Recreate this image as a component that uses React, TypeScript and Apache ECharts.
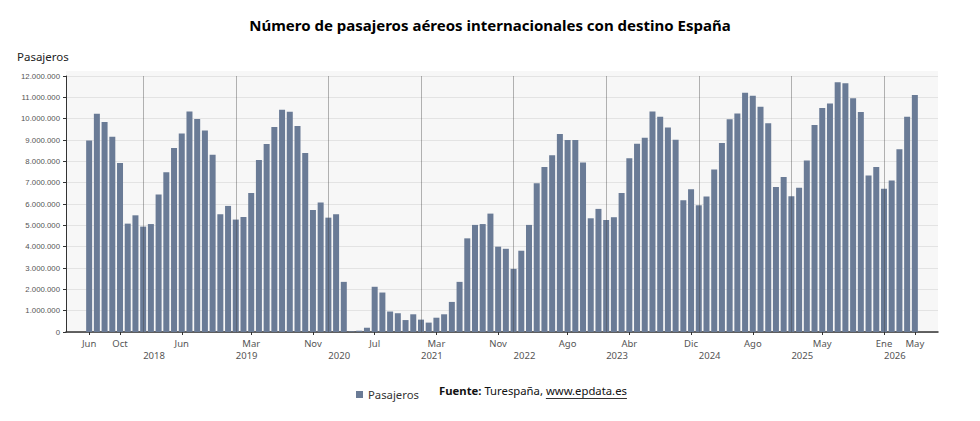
import React, { useEffect, useRef } from "react";
import * as echarts from "echarts";

// ---- Data (monthly international air passengers to Spain) ----
const monthNames = ["Ene", "Feb", "Mar", "Abr", "May", "Jun", "Jul", "Ago", "Sep", "Oct", "Nov", "Dic"];

const startYear = 2017;
const startMonth = 6; // Jun 2017
const values2017 = [8980000, 10230000, 9840000, 9150000, 7920000, 5080000, 5470000]; // Jun-Dic
const values2018 = [4940000, 5060000, 6440000, 7490000, 8620000, 9310000, 10340000, 9980000, 9450000, 8310000, 5520000, 5910000];
const values2019 = [5270000, 5390000, 6520000, 8060000, 8810000, 9610000, 10420000, 10330000, 9660000, 8390000, 5720000, 6070000];
const values2020 = [5360000, 5520000, 2350000, 30000, 60000, 200000, 2120000, 1850000, 960000, 880000, 560000, 830000];
const values2021 = [580000, 440000, 670000, 830000, 1410000, 2350000, 4390000, 5020000, 5060000, 5550000, 4000000, 3900000];
const values2022 = [2960000, 3810000, 5020000, 6970000, 7740000, 8280000, 9280000, 9000000, 9000000, 7950000, 5330000, 5770000];
const values2023 = [5250000, 5380000, 6520000, 8150000, 8820000, 9110000, 10340000, 10090000, 9590000, 9010000, 6180000, 6690000];
const values2024 = [5940000, 6350000, 7620000, 8860000, 9970000, 10240000, 11220000, 11080000, 10560000, 9780000, 6800000, 7260000];
const values2025 = [6360000, 6760000, 8040000, 9700000, 10500000, 10710000, 11710000, 11660000, 10960000, 10310000, 7340000, 7740000];
const values2026 = [6710000, 7100000, 8570000, 10090000, 11110000]; // Ene-May

// month ticks shown on the axis
const tickMonths = [
  "2017-06", "2017-10", "2018-06", "2019-03", "2019-11", "2020-07", "2021-03",
  "2021-11", "2022-08", "2023-04", "2023-12", "2024-08", "2025-05", "2026-01", "2026-05",
];
const yTicks = { min: 0, max: 12000000, interval: 1000000 };
const seriesName = "Pasajeros";
const titleText = "Número de pasajeros aéreos internacionales con destino España";

// ---- Build category axis ----
const padMonths = 3;
const allValues = [
  ...values2017, ...values2018, ...values2019, ...values2020, ...values2021,
  ...values2022, ...values2023, ...values2024, ...values2025, ...values2026,
];
const keyFor = (offset: number) => {
  const m0 = startYear * 12 + (startMonth - 1) + offset;
  const y = Math.floor(m0 / 12);
  const m = (m0 % 12) + 1;
  return `${y}-${m < 10 ? "0" + m : m}`;
};
const categories: string[] = [];
const seriesData: (number | string)[] = [];
for (let i = -padMonths; i < allValues.length + padMonths; i++) {
  categories.push(keyFor(i));
  seriesData.push(i >= 0 && i < allValues.length ? allValues[i] : "-");
}

const fmtThousands = (v: number) => String(Math.round(v)).replace(/\B(?=(\d{3})+(?!\d))/g, ".");

const FONT = "'Noto Sans', 'DejaVu Sans', sans-serif";
const FONT_NUM = "'Liberation Sans', Arial, sans-serif";
const BAR = "#6a7b96";
const SRC_SIZE = 11.3;

export default function App() {
  const ref = useRef<HTMLDivElement>(null);
  useEffect(() => {
    if (!ref.current) return;
    const chart = echarts.init(ref.current, undefined, { renderer: "svg" });

    // measure source text for underline placement
    const cv = document.createElement("canvas");
    const ctx = cv.getContext("2d")!;
    ctx.font = `bold ${SRC_SIZE}px 'Noto Sans'`;
    const wBold = ctx.measureText("Fuente:").width;
    ctx.font = `${SRC_SIZE}px 'Noto Sans'`;
    const wMid = ctx.measureText(" Turespaña, ").width;
    const wUrl = ctx.measureText("www.epdata.es").width;
    const srcX = 439;
    const urlX = srcX + wBold + wMid;

    const isTick = (_i: number, v: string) => tickMonths.indexOf(v) >= 0;
    const isJan = (_i: number, v: string) => v.endsWith("-01");

    chart.setOption({
      animation: false,
      title: {
        text: titleText,
        left: "center",
        top: 17,
        padding: 0,
        textStyle: { fontFamily: FONT, fontSize: 15, fontWeight: "bold", color: "#000" },
      },
      legend: {
        data: [seriesName],
        left: 351,
        top: 384,
        icon: "rect",
        itemWidth: 7,
        itemHeight: 7,
        itemGap: 5,
        textStyle: { fontFamily: FONT, fontSize: 11.3, color: "#333" },
        selectedMode: false,
      },
      grid: {
        left: 66,
        right: 42,
        top: 76,
        bottom: 89,
        show: true,
        backgroundColor: "#f7f7f7",
        borderWidth: 0,
      },
      graphic: [
        { type: "rect", shape: { x: 66, y: 71, width: 872, height: 5 }, style: { fill: "#f7f7f7" }, z: -10, silent: true },
        { type: "text", x: 17, y: 50, style: { text: seriesName, fontFamily: FONT, fontSize: 11.5, fill: "#222" } },
        {
          type: "text",
          x: srcX,
          y: 385,
          style: {
            text: "{b|Fuente:} Turespaña, www.epdata.es",
            fontFamily: FONT,
            fontSize: SRC_SIZE,
            fill: "#111",
            rich: { b: { fontFamily: FONT, fontSize: SRC_SIZE, fontWeight: "bold", fill: "#111" } },
          },
        },
        {
          type: "line",
          shape: { x1: urlX, y1: 398.5, x2: urlX + wUrl, y2: 398.5 },
          style: { stroke: "#333", lineWidth: 1 },
          silent: true,
        },
      ],
      xAxis: [
        {
          type: "category",
          data: categories,
          boundaryGap: false,
          axisLine: { show: true, lineStyle: { color: "#333", width: 1.5 } },
          axisTick: { show: true, interval: isTick, length: 3, lineStyle: { color: "#333" } },
          axisLabel: {
            interval: isTick,
            margin: 6,
            fontFamily: FONT,
            fontSize: 9.5,
            lineHeight: 11,
            color: "#555",
            formatter: (v: string) => monthNames[parseInt(v.slice(5), 10) - 1],
          },
          splitLine: { show: false },
        },
        {
          type: "category",
          data: categories,
          boundaryGap: false,
          position: "bottom",
          z: 5,
          axisLine: { show: false },
          axisTick: { show: false },
          axisLabel: {
            interval: isJan,
            margin: 18,
            align: "left",
            fontFamily: FONT,
            fontSize: 9.5,
            lineHeight: 11,
            color: "#555",
            formatter: (v: string) => v.slice(0, 4),
          },
          splitLine: { show: true, interval: isJan, lineStyle: { color: "rgba(70,70,70,0.4)", width: 1 } },
        },
      ],
      yAxis: {
        type: "value",
        min: yTicks.min,
        max: yTicks.max,
        interval: yTicks.interval,
        axisLine: { show: true, lineStyle: { color: "#333", width: 1 } },
        axisTick: { show: true, length: 3, lineStyle: { color: "#333" } },
        axisLabel: {
          margin: 6,
          fontFamily: FONT_NUM,
          fontSize: 7.8,
          color: "#555",
          formatter: (v: number) => fmtThousands(v),
        },
        splitLine: { show: true, lineStyle: { color: "#e3e3e3", width: 1 } },
      },
      series: [
        {
          name: seriesName,
          type: "bar",
          data: seriesData,
          barWidth: 6,
          itemStyle: { color: BAR },
        },
      ],
    });
    return () => chart.dispose();
  }, []);
  return (
    <div
      ref={ref}
      style={{ position: "fixed", left: 0, top: 0, width: 980, height: 421, background: "#fff" }}
    />
  );
}
